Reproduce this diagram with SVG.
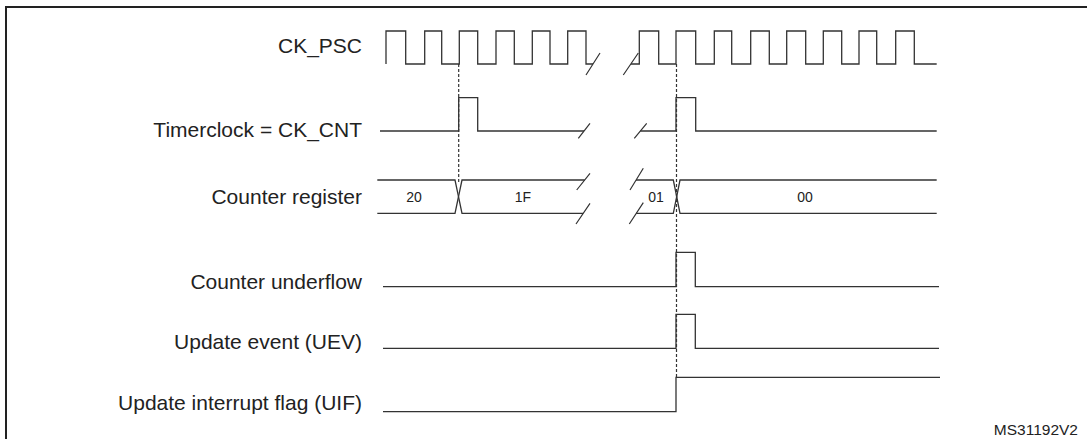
<svg xmlns="http://www.w3.org/2000/svg" width="1087" height="439" viewBox="0 0 1087 439">
<style>
.w{fill:none;stroke:#333;stroke-width:1.3;stroke-linejoin:miter}
.br{fill:none;stroke:#333;stroke-width:1.2}
.d{fill:none;stroke:#333;stroke-width:1.2;stroke-dasharray:3,2}
.lbl{font-family:"Liberation Sans",Arial,sans-serif;font-size:21px;fill:#222;text-anchor:end}
.v{font-family:"Liberation Sans",Arial,sans-serif;font-size:14px;fill:#222;text-anchor:middle}
</style>
<rect width="1087" height="439" fill="#fff"/>
<path d="M6,439 V7 H1087" fill="none" stroke="#222" stroke-width="2"/>
<g id="ck_psc">
<text class="lbl" x="362" y="52.5">CK_PSC</text>
<path class="w" d="M386,64 V31 H405.7 V64 H424.7 V31 H441.7 V64 H459.3 V31 H477.7 V64 H496 V31 H514.3 V64 H532.3 V31 H550 V64 H567.7 V31 H586 V64 H593"/>
<path class="w" d="M631,64 H639.3 V31 H658.7 V64 H676 V31 H695.7 V64 H714.3 V31 H731.7 V64 H750.7 V31 H769.3 V64 H786.7 V31 H805.7 V64 H823.3 V31 H841.7 V64 H859 V31 H876.7 V64 H895.7 V31 H914.3 V64 H936.7"/>
<path class="br" d="M586,75 L600,53 M623.3,75 L638.3,53"/>
</g>
<g id="ck_cnt">
<text class="lbl" x="362" y="137">Timerclock = CK_CNT</text>
<path class="w" d="M380,131 H458.7 V97.7 H477.7 V131 H584"/>
<path class="w" d="M640.3,131 H676 V97.7 H695.7 V131 H936.7"/>
<path class="br" d="M578.3,138.3 L590,123.3 M634.3,138.3 L646.7,123.3"/>
</g>
<g id="counter_register">
<text class="lbl" x="362" y="204">Counter register</text>
<path class="w" d="M377.3,180 H455 L458.5,196.7 L455,213.3 H377.3"/>
<path class="w" d="M584.7,180 H462 L458.5,196.7 L462,213.3 H583.2"/>
<path class="w" d="M636,180 H673.3 L676.7,196.7 L673.3,213.3 H636"/>
<path class="w" d="M936.7,180 H680 L676.7,196.7 L680,213.3 H936.7"/>
<path class="br" d="M576.7,190 L590,173.3 M576,224 L590,203.3 M630,190 L643.3,168.3 M629.3,224 L643.3,202.7"/>
<text class="v" x="414" y="201.7">20</text>
<text class="v" x="523" y="201.7">1F</text>
<text class="v" x="656" y="201.7">01</text>
<text class="v" x="805" y="201.7">00</text>
</g>
<g id="counter_underflow">
<text class="lbl" x="362" y="288.5">Counter underflow</text>
<path class="w" d="M383,286.7 H676 V252.3 H695.3 V286.7 H939"/>
</g>
<g id="uev">
<text class="lbl" x="362" y="348.5">Update event (UEV)</text>
<path class="w" d="M383,348.3 H676 V314.3 H695.3 V348.3 H939"/>
</g>
<g id="uif">
<text class="lbl" x="362" y="410">Update interrupt flag (UIF)</text>
<path class="w" d="M383,411.7 H676 V377.3 H940"/>
</g>
<g id="connectors">
<path class="d" d="M458.7,64 V182"/>
<path class="d" d="M676.5,64 V377"/>
</g>
<text x="1078" y="435" font-family="'Liberation Sans',Arial,sans-serif" font-size="15.5" fill="#222" text-anchor="end">MS31192V2</text>
</svg>
